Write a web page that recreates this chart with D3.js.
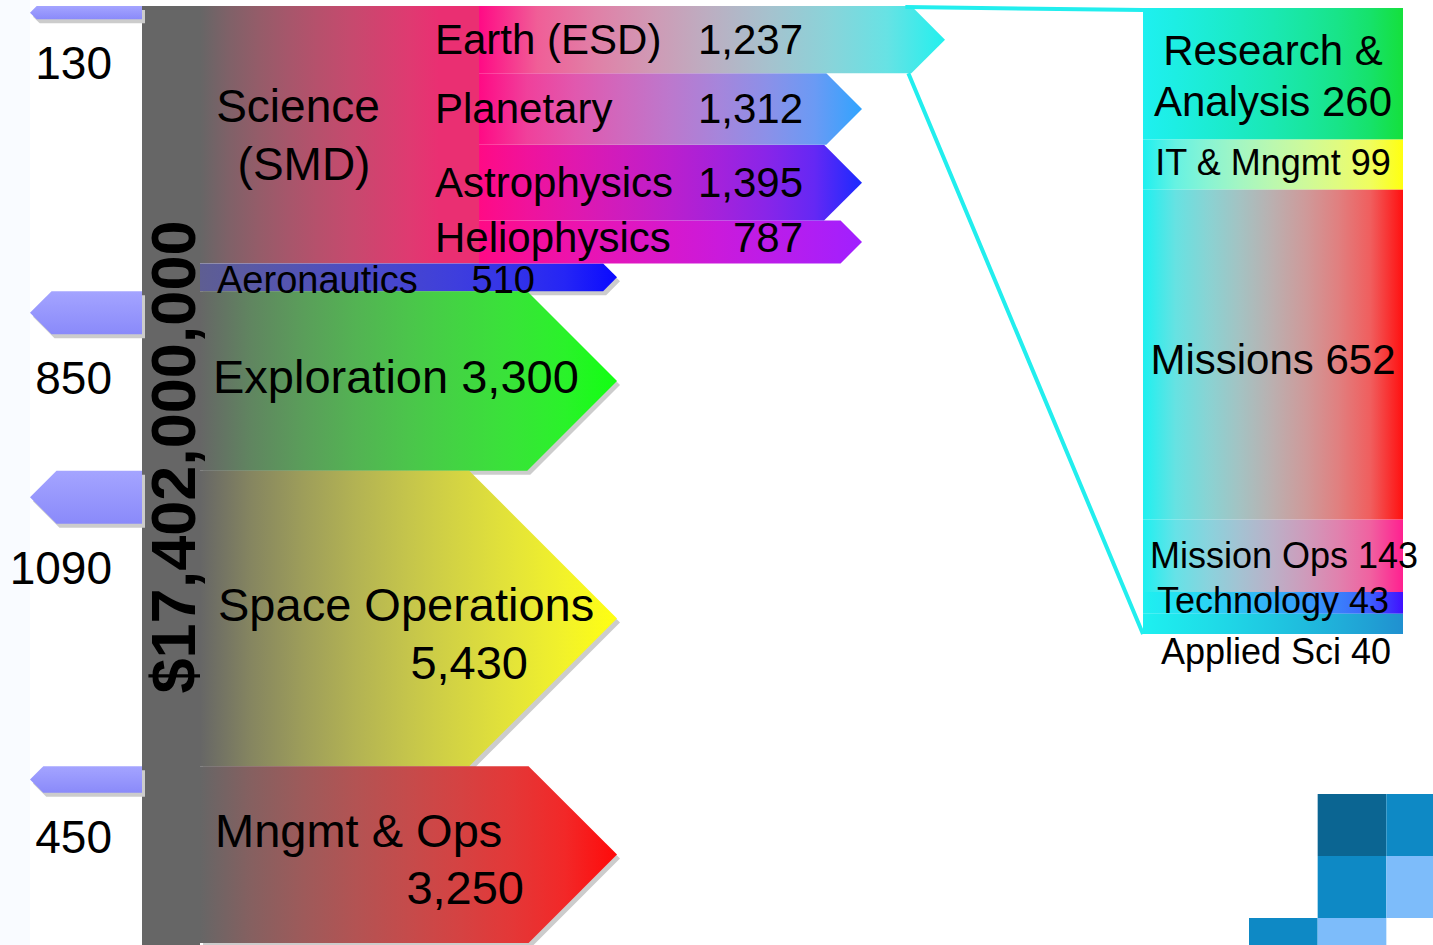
<!DOCTYPE html>
<html>
<head>
<meta charset="utf-8">
<script src="https://cdn.jsdelivr.net/npm/d3@7"></script>
<style>
  body { margin: 0; background: #fff; }
  svg { display: block; font-family: "Liberation Sans", Arial, sans-serif; }
</style>
</head>
<body>
<script>
// budget, millions of dollars
const divisions = ["Science", "Aeronautics", "Exploration", "Space Operations", "Mngmt & Ops"];
const divisionValues = [4731, 510, 3300, 5430, 3250];

const scienceParts = ["Earth (ESD)", "Planetary", "Astrophysics", "Heliophysics"];
const scienceValues = [1237, 1312, 1395, 787];

const earthParts = ["Research & Analysis", "IT & Mngmt", "Missions", "Mission Ops", "Technology", "Applied Sci"];
const earthValues = [260, 99, 652, 143, 43, 40];

const flagDivisions = ["Science", "Exploration", "Space Operations", "Mngmt & Ops"];
const flagValues = [130, 850, 1090, 450];

const totalLabel = "$17,402,000,000";

// corner decoration tiles: column, row, shade
const tileCols = [1, 2, 1, 2, 0, 1];
const tileRows = [0, 0, 1, 1, 2, 2];
const tileShades = [0, 1, 1, 2, 1, 2];

const W = 1433, H = 945;
const fmt = d3.format(",");

const svg = d3.select("body").append("svg").attr("width", W).attr("height", H);
const defs = svg.append("defs");

svg.append("rect").attr("x", 0).attr("y", 0).attr("width", 30).attr("height", H).attr("fill", "#f9fbff");

// colours
const divColor = d3.scaleOrdinal().domain(divisions)
    .range(["#ea2f72", "#0a0aff", "#12ff12", "#ffff12", "#ff0a0a"]);
const subColor = d3.scaleOrdinal().domain(scienceParts)
    .range(["#22f0ee", "#30a4ff", "#1a2aff", "#a020ff"]);
const earthColor = d3.scaleOrdinal().domain(earthParts)
    .range(["#15e03c", "#ffff10", "#ff1010", "#ff2090", "#4010ff", "#2090d0"]);
const shadow = "#cccccc";

// horizontal gradient, blended in linear light (gamma 2.2)
function gradient(id, xa, xb, c0, c1) {
    let g = defs.append("linearGradient").attr("id", id)
        .attr("gradientUnits", "userSpaceOnUse")
        .attr("x1", xa).attr("x2", xb).attr("y1", 0).attr("y2", 0);
    let ip = d3.interpolateRgb.gamma(2.2)(c0, c1);
    d3.range(0, 1.01, 0.125).forEach(t => {
        g.append("stop").attr("offset", t).attr("stop-color", ip(t));
    });
    return "url(#" + id + ")";
}

// right pointing chevron arrow
function arrow(xa, xt, ya, yb) {
    let h = (yb - ya) / 2, xb = xt - h;
    return `M${xa},${ya}H${xb}L${xt},${ya + h}L${xb},${yb}H${xa}Z`;
}
// left pointing flag
function flag(xa, xt, ya, yb) {
    let h = (yb - ya) / 2, xb = xt + h;
    return `M${xa},${ya}H${xb}L${xt},${ya + h}L${xb},${yb}H${xa}Z`;
}

const colX = 142, colW = 58, x0 = colX + colW;
const tipX = 617, subX = 479, subTip = 862;

// vertical scale for the divisions
const y = d3.scaleLinear().domain([0, d3.sum(divisionValues)]).range([6, 943]);
const divCum = [0, ...d3.cumsum(divisionValues)];
const divs = divisions.map((name, i) => ({
    name, value: divisionValues[i], i,
    y0: y(divCum[i]), y1: y(divCum[i + 1])
}));

// division arrows (science is a plain block, split into sub arrows)
divs.forEach(d => {
    if (d.i === 0) {
        let fill = gradient("g0", x0, subX - 40, "#666666", divColor(d.name));
        svg.append("rect").attr("x", x0).attr("y", d.y0).attr("width", subX - x0).attr("height", d.y1 - d.y0).attr("fill", fill);
    } else {
        let fill = gradient("g" + d.i, x0, tipX, d.i === 1 ? "#5e5e92" : "#666666", divColor(d.name));
        svg.append("path").attr("d", arrow(x0, tipX, d.y0, d.y1)).attr("fill", shadow).attr("transform", "translate(3,4)");
        svg.append("path").attr("d", arrow(x0, tipX, d.y0, d.y1)).attr("fill", fill);
    }
});

// science sub arrows
const sci = divs[0];
const ys = d3.scaleLinear().domain([0, d3.sum(scienceValues)]).range([sci.y0, sci.y1]);
const subCum = [0, ...d3.cumsum(scienceValues)];
const subs = scienceParts.map((name, i) => ({
    name, value: scienceValues[i], i,
    y0: ys(subCum[i]), y1: ys(subCum[i + 1]),
    tip: i === 0 ? subTip + 83 : subTip
}));
subs.slice().reverse().forEach(d => {
    let fill = gradient("s" + d.i, subX, d.tip, "#ff0a85", subColor(d.name));
    svg.append("path").attr("d", arrow(subX, d.tip, d.y0, d.y1)).attr("fill", fill);
});

// right panel: Earth science breakdown
const px0 = 1143, px1 = 1403;
const ye = d3.scaleLinear().domain([0, d3.sum(earthValues)]).range([8, 634]);
const eCum = [0, ...d3.cumsum(earthValues)];
const erows = earthParts.map((name, i) => ({
    name, value: earthValues[i], i,
    y0: ye(eCum[i]), y1: ye(eCum[i + 1])
}));
erows.forEach(d => {
    svg.append("rect").attr("x", px0).attr("y", d.y0).attr("width", px1 - px0).attr("height", d.y1 - d.y0)
        .attr("fill", gradient("e" + d.i, px0, px1, "#1ef0f0", earthColor(d.name)));
});

// connectors from Earth arrow to panel
const earth = subs[0];
const earthBody = earth.tip - (earth.y1 - earth.y0) / 2;
svg.append("path")
    .attr("d", `M${earthBody - 6},${earth.y0 + 1}L${px0},${ye(0) + 2}M${earthBody - 3},${earth.y1}L${px0},${ye.range()[1]}`)
    .attr("fill", "none").attr("stroke", "#22eeee").attr("stroke-width", 4);

// gray column
svg.append("rect").attr("x", colX).attr("y", 6).attr("width", colW).attr("height", H - 6).attr("fill", "#666666");

// flags on the left
const fh = d3.scaleLinear().domain([0, d3.max(flagValues)]).range([8, 53]);
const flagGrad = defs.append("linearGradient").attr("id", "flagGrad").attr("x1", 0).attr("x2", 0).attr("y1", 0).attr("y2", 1);
flagGrad.append("stop").attr("offset", 0).attr("stop-color", "#a4a4ff");
flagGrad.append("stop").attr("offset", 1).attr("stop-color", "#8a8afa");
flagValues.forEach((v, i) => {
    let d = divs.find(e => e.name === flagDivisions[i]);
    let ya = d.y0, yb = d.y0 + fh(v);
    svg.append("path").attr("d", flag(colX, 30, ya, yb)).attr("fill", shadow).attr("transform", "translate(3,4)");
    svg.append("path").attr("d", flag(colX, 30, ya, yb)).attr("fill", "url(#flagGrad)");
    svg.append("text").attr("x", 112).attr("y", yb + 44)
        .attr("text-anchor", "end").attr("dominant-baseline", "central")
        .attr("font-size", 46).text(String(v));
});

// helper to write text
function label(x, yy, str, size, anchor) {
    return svg.append("text").attr("x", x).attr("y", yy)
        .attr("text-anchor", anchor || "start").attr("dominant-baseline", "central")
        .attr("font-size", size).attr("fill", "#000").text(str);
}

// division labels
divs.forEach(d => {
    let mid = (d.y0 + d.y1) / 2;
    if (d.name === "Science") {
        label(298, d.y0 + 100, "Science", 46, "middle");
        label(304, d.y0 + 158, "(SMD)", 46, "middle");
    } else if (d.name === "Aeronautics") {
        label(217, mid + 3, d.name, 38);
        label(535, mid + 3, fmt(d.value), 38, "end");
    } else if (d.name === "Exploration") {
        label(213, mid - 4, d.name + " " + fmt(d.value), 47);
    } else if (d.name === "Space Operations") {
        label(218, mid - 14, d.name, 47);
        label(528, mid + 44, fmt(d.value), 47, "end");
    } else {
        label(215, mid - 24, d.name, 47);
        label(524, mid + 33, fmt(d.value), 47, "end");
    }
});

// science sub labels
subs.forEach(d => {
    let mid = (d.y0 + d.y1) / 2 - (d.i === 3 ? 5 : 0);
    label(435, mid, d.name, 42);
    label(803, mid, fmt(d.value), 42, "end");
});

// panel labels
const pMid = (px0 + px1) / 2;
erows.forEach(d => {
    let mid = (d.y0 + d.y1) / 2;
    if (d.name === "Research & Analysis") {
        label(pMid, mid - 23, "Research &", 42, "middle");
        label(pMid, mid + 28, "Analysis " + d.value, 42, "middle");
    } else if (d.name === "Missions") {
        label(pMid, mid + 5, d.name + " " + d.value, 42, "middle");
    } else if (d.name === "Mission Ops") {
        label(1150, mid, d.name + " " + d.value, 36);
    } else if (d.name === "Applied Sci") {
        label(pMid + 3, d.y1 + 17, d.name + " " + d.value, 36, "middle");
    } else {
        label(pMid, mid - 2, d.name + " " + d.value, 36, "middle");
    }
});

// total, written up the gray column
svg.append("text")
    .attr("transform", "translate(173,457) rotate(-90)")
    .attr("text-anchor", "middle").attr("dominant-baseline", "central")
    .attr("font-size", 63).attr("font-weight", "bold").text(totalLabel);

// corner decoration
const tx = d3.scaleBand().domain([0, 1, 2]).range([1249, 1455]);
const ty = d3.scaleBand().domain([0, 1, 2]).range([794, 980]);
const shade = ["#0b6592", "#0e89c5", "#7dbcfa"];
tileCols.forEach((c, i) => {
    svg.append("rect").attr("x", tx(c)).attr("y", ty(tileRows[i]))
        .attr("width", tx.bandwidth()).attr("height", ty.bandwidth())
        .attr("fill", shade[tileShades[i]]);
});
</script>
</body>
</html>
